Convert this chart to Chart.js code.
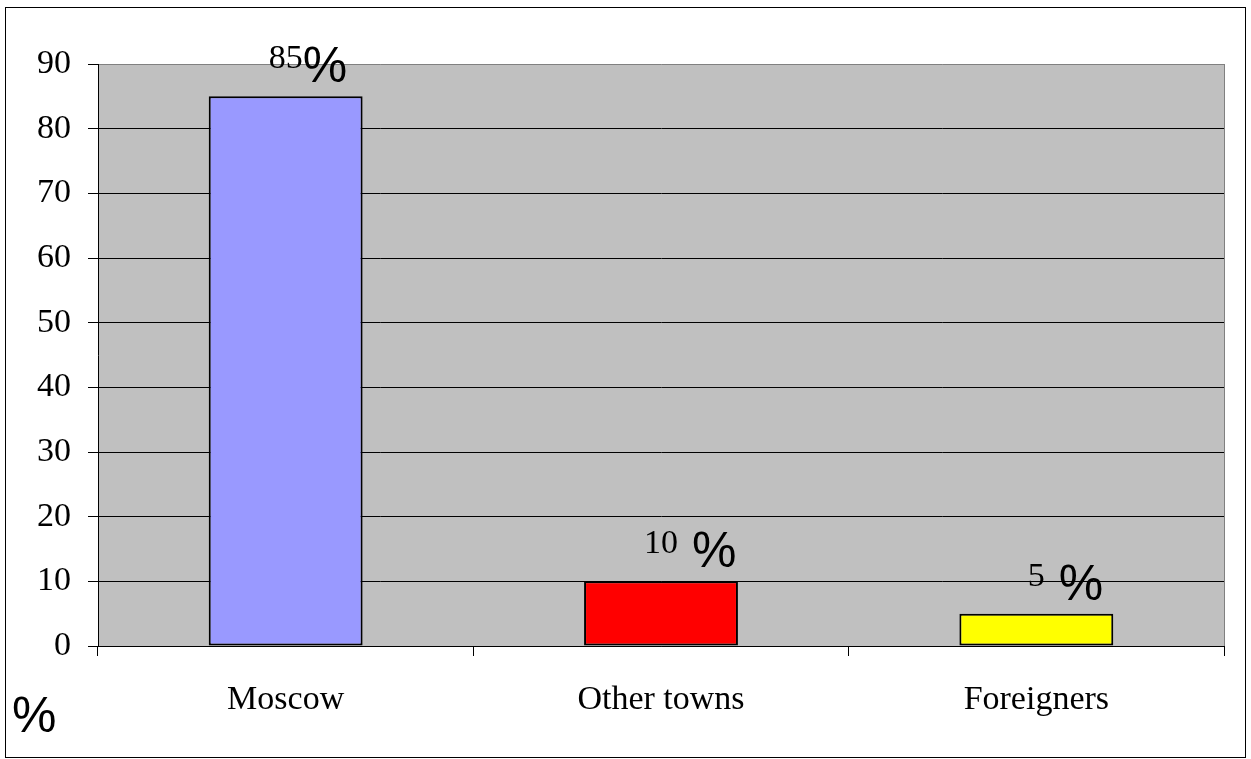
<!DOCTYPE html>
<html>
<head>
<meta charset="utf-8">
<script src="https://cdn.jsdelivr.net/npm/chart.js@4/dist/chart.umd.min.js"></script>
<style>
  body { margin: 0; background: #fff; }
  canvas { display: block; }
</style>
</head>
<body>
<canvas id="chart" width="1251" height="759"></canvas>
<script>
const categories = ['Moscow', 'Other towns', 'Foreigners'];
const shares = [85, 10, 5];
const valueLabels = ['85%', '10 %', '5 %'];
const barColors = ['#9999FF', '#FF0000', '#FFFF00'];
const yTicks = [0, 10, 20, 30, 40, 50, 60, 70, 80, 90];

const serif = '"Liberation Serif", "Times New Roman", serif';
const sans = '"Liberation Sans", Arial, sans-serif';

// gray plot area, outer frame and right border
const frame = {
  id: 'frame',
  beforeDraw(chart) {
    const ctx = chart.ctx;
    const a = chart.chartArea;
    ctx.save();
    ctx.fillStyle = '#fff';
    ctx.fillRect(0, 0, chart.width, chart.height);
    ctx.fillStyle = '#C0C0C0';
    ctx.fillRect(a.left, a.top, a.right - a.left, a.bottom - a.top);
    ctx.strokeStyle = '#000';
    ctx.lineWidth = 1;
    ctx.strokeRect(5.5, 7.5, 1240, 750);
    ctx.restore();
  },
  beforeDatasetsDraw(chart) {
    const ctx = chart.ctx;
    const a = chart.chartArea;
    ctx.save();
    ctx.strokeStyle = '#808080';
    ctx.lineWidth = 1;
    ctx.beginPath();
    ctx.moveTo(Math.round(a.right) + 0.5, a.top);
    ctx.lineTo(Math.round(a.right) + 0.5, a.bottom);
    ctx.stroke();
    ctx.restore();
  }
};

// value labels: number in serif centered on the bar, "%" in sans after it
const valueLabelPlugin = {
  id: 'valueLabels',
  afterDatasetsDraw(chart) {
    const ctx = chart.ctx;
    const meta = chart.getDatasetMeta(0);
    ctx.save();
    ctx.fillStyle = '#000';
    ctx.textBaseline = 'alphabetic';
    meta.data.forEach((bar, i) => {
      const txt = valueLabels[i];
      const num = txt.match(/^\d+/)[0];
      const rest = txt.slice(num.length);
      ctx.font = '34px ' + serif;
      const w = ctx.measureText(num).width;
      const x0 = bar.x - w / 2;
      ctx.textAlign = 'left';
      ctx.fillText(num, x0, bar.y - 28);
      ctx.font = '50px ' + sans;
      ctx.fillText(rest, x0 + w, bar.y - 14);
    });
    // axis unit at bottom left
    ctx.font = '50px ' + sans;
    ctx.fillText('%', 12, 732);
    ctx.restore();
  }
};

const data = {
  labels: categories,
  datasets: [{
    data: shares,
    backgroundColor: barColors,
    borderColor: '#000',
    borderWidth: 2,
    borderSkipped: false,
    barPercentage: 0.41,
    categoryPercentage: 1
  }]
};

const config = {
  type: 'bar',
  data,
  options: {
    responsive: false,
    animation: false,
    layout: { padding: { top: 64, right: 27, left: 0, bottom: 0 } },
    plugins: {
      legend: { display: false },
      tooltip: { enabled: false }
    },
    scales: {
      x: {
        grid: {
          offset: true,
          drawOnChartArea: false,
          drawTicks: true,
          tickLength: 10,
          tickColor: '#000'
        },
        border: { display: true, color: '#000', width: 1 },
        ticks: {
          color: '#000',
          font: { family: serif, size: 34 },
          padding: 24,
          maxRotation: 0
        },
        afterFit(scale) { scale.height = 113; }
      },
      y: {
        min: 0,
        max: 90,
        afterBuildTicks(scale) { scale.ticks = yTicks.map(v => ({ value: v })); },
        grid: {
          color: ctx => ctx.tick && ctx.tick.value === 90 ? '#808080' : '#000',
          tickColor: '#000',
          tickLength: 10,
          lineWidth: 1
        },
        border: { display: true, color: '#000', width: 1 },
        ticks: {
          color: '#000',
          font: { family: serif, size: 34 },
          padding: 17
        },
        afterFit(scale) { scale.width = 98; }
      }
    }
  },
  plugins: [frame, valueLabelPlugin]
};

const myChart = new Chart(document.getElementById('chart'), config);
</script>
</body>
</html>
